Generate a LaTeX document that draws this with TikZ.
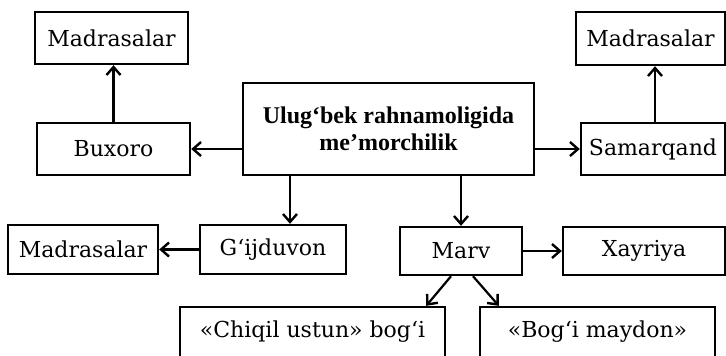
\documentclass[tikz,border=0pt]{standalone}
\usepackage{fontspec}
\setmainfont{DejaVu Serif}
\newfontfamily\titlefont{Liberation Serif}
\usetikzlibrary{positioning, arrows.meta}
\tikzset{
    box/.style={draw=black, rectangle, line width=1.2pt, inner sep=2pt, align=center, font=\fontsize{11}{13.5}\selectfont},
    arr/.style={-{Straight Barb[length=4pt, width=7pt, line width=1.2pt]}, line width=1.1pt}
}

\begin{document}
\begin{tikzpicture}[x=0.5pt, y=-0.5pt]
\useasboundingbox (0,0) rectangle (726,355);

% Nodes
\node[box, font=\titlefont\fontsize{12}{13.5}\selectfont\bfseries, minimum width=145.5pt, minimum height=46pt] (main) at (388.5,129) {Ulug‘bek rahnamoligida\\me’morchilik};
\node[box, minimum width=76.5pt, minimum height=26pt] (bux) at (113.5,149) {Buxoro};
\node[box, minimum width=76.5pt, minimum height=26pt] (madL) at (111.5,38) {Madrasalar};
\node[box, minimum width=72pt, minimum height=26pt] (sam) at (653,149) {Samarqand};
\node[box, minimum width=74.5pt, minimum height=26.5pt] (madR) at (650.5,38.5) {Madrasalar};
\node[box, minimum width=73pt, minimum height=24.5pt] (gij) at (273,249.5) {G‘ijduvon};
\node[box, minimum width=75pt, minimum height=24.5pt] (madB) at (83,249.5) {Madrasalar};
\node[box, minimum width=61pt, minimum height=24pt] (marv) at (461,251) {Marv};
\node[box, minimum width=81pt, minimum height=24pt] (xay) at (644,251) {Xayriya};
\node[box, minimum width=132.5pt, minimum height=25pt] (chiq) at (312.5,332) {«Chiqil ustun» bog‘i};
\node[box, minimum width=117.5pt, minimum height=25pt] (bogm) at (597.5,332) {«Bog‘i maydon»};

% Arrows
\draw[arr] (bux.north) -- (bux.north |- madL.south);
\draw[arr] (main.west |- bux) -- (bux.east);
\draw[arr] (main.east |- sam) -- (sam.west);
\draw[arr] ([xshift=1pt]sam.north) -- ([xshift=1pt]sam.north |- madR.south);
\draw[arr] ([xshift=8.5pt]gij.north |- main.south) -- ([xshift=8.5pt]gij.north);
\draw[arr] (marv.north |- main.south) -- (marv.north);
\draw[arr] (gij.west) -- (madB.east);
\draw[arr] (marv.east) -- (xay.west);
\draw[arr] ([xshift=-5pt]marv.south) -- ([xshift=-10pt]chiq.north east);
\draw[arr] ([xshift=6pt]marv.south) -- ([xshift=10pt]bogm.north west);

\end{tikzpicture}
\end{document}
